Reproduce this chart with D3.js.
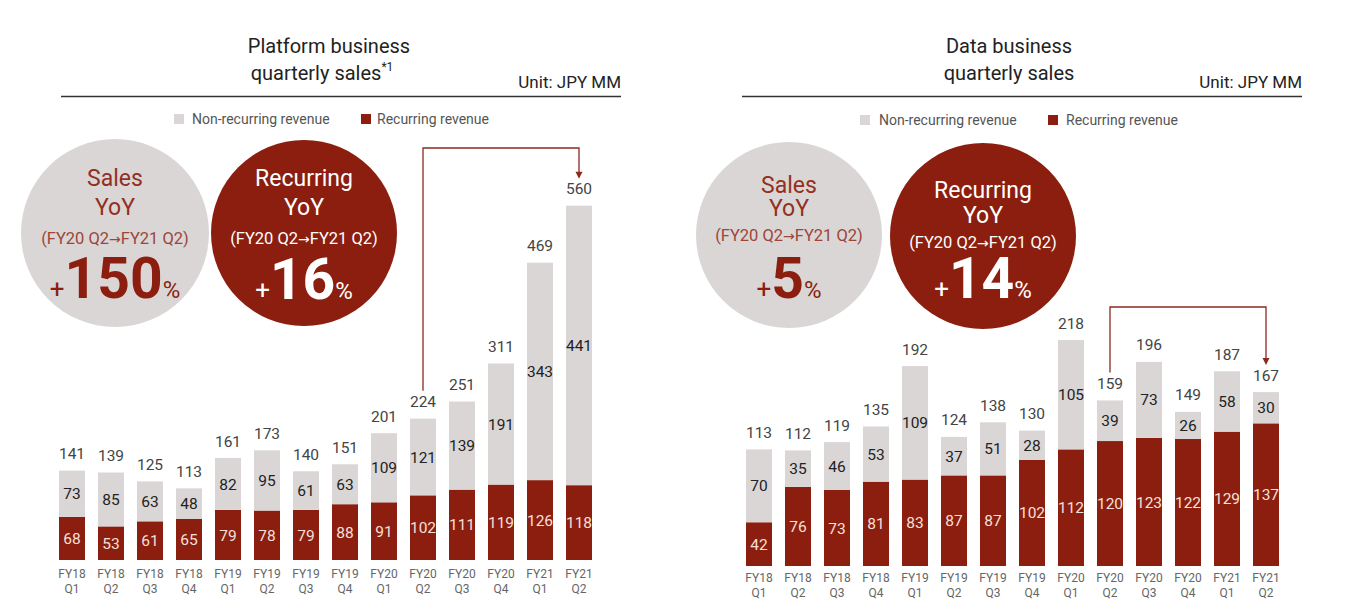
<!DOCTYPE html>
<html><head><meta charset="utf-8">
<script src="https://cdn.jsdelivr.net/npm/d3@7/dist/d3.min.js"></script>
<style>
body{margin:0;background:#fff;}
text{font-family:Roboto,"Liberation Sans",sans-serif;}
</style>
</head><body>
<svg id="c" width="1358" height="600"></svg>
<script>
// ---------- data ----------
const categories = ["FY18 Q1","FY18 Q2","FY18 Q3","FY18 Q4","FY19 Q1","FY19 Q2","FY19 Q3","FY19 Q4","FY20 Q1","FY20 Q2","FY20 Q3","FY20 Q4","FY21 Q1","FY21 Q2"];
const platformRecurring    = [68,53,61,65,79,78,79,88,91,102,111,119,126,118];
const platformNonRecurring = [73,85,63,48,82,95,61,63,109,121,139,191,343,441];
const platformTotals       = [141,139,125,113,161,173,140,151,201,224,251,311,469,560];
const dataRecurring        = [42,76,73,81,83,87,87,102,112,120,123,122,129,137];
const dataNonRecurring     = [70,35,46,53,109,37,51,28,105,39,73,26,58,30];
const dataTotals           = [113,112,119,135,192,124,138,130,218,159,196,149,187,167];
const legendLabels = ["Non-recurring revenue","Recurring revenue"];
const platformTitle = ["Platform business","quarterly sales"];
const dataTitle = ["Data business","quarterly sales"];
const unitLabel = "Unit: JPY MM";
const platformKpi = [{head:"Sales", value:"150"},{head:"Recurring", value:"16"}];
const dataKpi = [{head:"Sales", value:"5"},{head:"Recurring", value:"14"}];
const periodParts = ["(FY20 Q2", "\u2192", "FY21 Q2)"];
const bracketFrom = "FY20 Q2", bracketTo = "FY21 Q2";

// ---------- style ----------
const RED = "#8b1e0e", GRAY = "#dad6d6";
const svg = d3.select("#c");

function panel(cfg){
  const g = svg.append("g");
  // title
  g.append("text").attr("x", cfg.titleX).attr("y", 53).attr("text-anchor","middle")
    .attr("font-size", 20).attr("fill","#222").text(cfg.title[0]);
  const t2 = g.append("text").attr("x", cfg.titleX + (cfg.sup ? -7 : 0)).attr("y", 80).attr("text-anchor","middle")
    .attr("font-size", 20).attr("fill","#222");
  t2.append("tspan").text(cfg.title[1]);
  if (cfg.sup) t2.append("tspan").attr("font-size", 12).attr("dy", -9).text(cfg.sup);
  g.append("text").attr("x", cfg.lineX[1]).attr("y", 88).attr("text-anchor","end")
    .attr("font-size", 17).attr("fill","#222").text(unitLabel);
  g.append("line").attr("x1", cfg.lineX[0]).attr("x2", cfg.lineX[1]).attr("y1", 96.5).attr("y2", 96.5)
    .attr("stroke","#333").attr("stroke-width", 1.5);

  // legend
  const lg = g.append("g").attr("font-size", 14).attr("fill", "#555");
  [[GRAY, cfg.legend[0], cfg.legend[1]], [RED, cfg.legend[2], cfg.legend[3]]].forEach((d,i)=>{
    lg.append("rect").attr("x", d[1]).attr("y", cfg.legendY - 5).attr("width", 10).attr("height", 10).attr("fill", d[0]);
    lg.append("text").attr("x", d[2]).attr("y", cfg.legendY + 5).text(legendLabels[i]);
  });

  // KPI circles
  cfg.circles.forEach((c, i) => {
    const kpi = cfg.kpi[i];
    const isRed = i === 1;
    const cg = g.append("g");
    cg.append("circle").attr("cx", c.cx).attr("cy", c.cy).attr("r", c.r).attr("fill", isRed ? RED : GRAY);
    const headCol = isRed ? "#fff" : "#93301f";
    const subCol = isRed ? "#fff" : "#9c4538";
    cg.append("text").attr("x", c.cx).attr("y", c.ys[0] + 8).attr("text-anchor","middle")
      .attr("font-size", 23).attr("fill", headCol).text(kpi.head);
    cg.append("text").attr("x", c.cx).attr("y", c.ys[1] + 8).attr("text-anchor","middle")
      .attr("font-size", 23).attr("fill", headCol).text("YoY");
    const sub = cg.append("text").attr("x", c.cx).attr("y", c.ys[2] + 6).attr("text-anchor","middle")
      .attr("font-size", 16.5).attr("fill", subCol);
    sub.append("tspan").text(periodParts[0]);
    sub.append("tspan").attr("font-family","DejaVu Sans").attr("font-size", 14).text(periodParts[1]);
    sub.append("tspan").text(periodParts[2]);
    const big = cg.append("text").attr("x", c.cx).attr("y", c.ys[3]).attr("text-anchor","middle")
      .attr("fill", isRed ? "#fff" : RED);
    big.append("tspan").attr("font-size", 26).text("+");
    big.append("tspan").attr("font-size", 57).attr("font-weight", 700).text(kpi.value);
    big.append("tspan").attr("font-size", 24).text("%");
  });

  // scales
  const x = d3.scaleBand().domain(categories).range(cfg.xRange).paddingInner(1/3).paddingOuter(0.5);
  const y = d3.scaleLinear().domain([0, cfg.yMax]).range([cfg.base, cfg.yTop]);
  const rows = categories.map((c, i) => ({cat: c, rec: cfg.rec[i], non: cfg.non[i], total: cfg.tot[i]}));
  const series = d3.stack().keys(["rec","non"])(rows);
  const colors = {rec: RED, non: GRAY};

  const bars = g.append("g");
  series.forEach(s => {
    bars.selectAll(null).data(s).join("rect")
      .attr("x", d => x(d.data.cat)).attr("width", x.bandwidth())
      .attr("y", d => y(d[1])).attr("height", d => y(d[0]) - y(d[1]))
      .attr("fill", colors[s.key]);
    bars.selectAll(null).data(s).join("text")
      .attr("x", d => x(d.data.cat) + x.bandwidth()/2)
      .attr("y", d => (y(d[0]) + y(d[1]))/2).attr("dy","0.36em")
      .attr("text-anchor","middle").attr("font-size", 15.5)
      .attr("fill", s.key === "rec" ? "#f6e0da" : "#222")
      .text(d => d.data[s.key]);
  });
  const topOf = d => y(d.rec + d.non);
  bars.selectAll(null).data(rows).join("text")
    .attr("x", d => x(d.cat) + x.bandwidth()/2)
    .attr("y", d => topOf(d) - 17).attr("dy","0.36em")
    .attr("text-anchor","middle").attr("font-size", 15.5).attr("fill","#444")
    .text(d => d.total);

  // axis
  const ax = g.append("g").attr("transform", `translate(0,${cfg.base})`)
    .call(d3.axisBottom(x).tickSize(0).tickPadding(0));
  ax.select(".domain").remove();
  ax.selectAll(".tick text").each(function(d){
    const parts = d.split(" ");
    const t = d3.select(this).text(null).attr("font-size", 12).attr("fill","#666")
      .attr("font-family","Roboto,sans-serif").attr("y", null).attr("dy", null);
    t.append("tspan").attr("x", 0).attr("y", cfg.tick[0]).text(parts[0]);
    t.append("tspan").attr("x", 0).attr("y", cfg.tick[1]).text(parts[1]);
  });

  // bracket arrow
  const iFrom = categories.indexOf(bracketFrom), iTo = categories.indexOf(bracketTo);
  const xa = x(bracketFrom) + x.bandwidth()/2, xb = x(bracketTo) + x.bandwidth()/2;
  const ya = topOf(rows[iFrom]) - 28, yb = topOf(rows[iTo]) - 28;
  g.append("path").attr("d", `M${xa},${ya}V${cfg.bracketY}H${xb}V${yb - 5}`)
    .attr("fill","none").attr("stroke", "#8b2a1f").attr("stroke-width", 1.3);
  g.append("path").attr("d", `M${xb-3.5},${yb-6}L${xb+3.5},${yb-6}L${xb},${yb+1}Z`).attr("fill", "#8b2a1f");
}

panel({
  title: platformTitle, sup: "*1", titleX: 329, lineX: [61, 621],
  legend: [174, 192, 361, 377], legendY: 119,
  kpi: platformKpi,
  circles: [
    {cx: 115, cy: 233, r: 94, ys: [178, 207, 238, 298]},
    {cx: 304, cy: 233, r: 93, ys: [178, 207, 238, 299]}
  ],
  rec: platformRecurring, non: platformNonRecurring, tot: platformTotals,
  xRange: [39.5, 611.5], yMax: 560, base: 560, yTop: 205,
  tick: [18, 33], bracketY: 148
});
panel({
  title: dataTitle, sup: null, titleX: 1009, lineX: [742, 1302],
  legend: [860, 879, 1048, 1066], legendY: 120,
  kpi: dataKpi,
  circles: [
    {cx: 789, cy: 235, r: 93, ys: [185, 208, 235, 298]},
    {cx: 983, cy: 236, r: 93, ys: [190, 215, 242, 298]}
  ],
  rec: dataRecurring, non: dataNonRecurring, tot: dataTotals,
  xRange: [726.5, 1298.5], yMax: 218, base: 566, yTop: 339,
  tick: [16, 31], bracketY: 307
});
</script>
</body></html>
